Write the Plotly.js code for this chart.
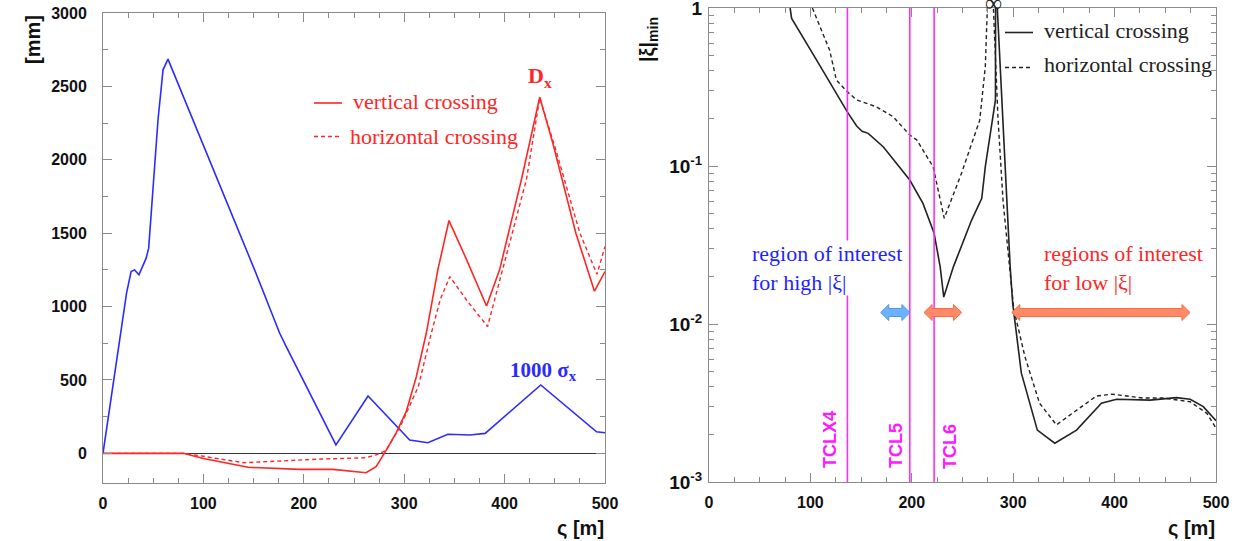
<!DOCTYPE html>
<html>
<head>
<meta charset="utf-8">
<script src="https://cdn.plot.ly/plotly-3.0.1.min.js"></script>
<style>
  html, body { margin: 0; padding: 0; background: #fff; }
  #chart { width: 1253px; height: 541px; }
</style>
</head>
<body>
<div id="chart"></div>
<script>
// ---- Left panel: dispersion D_x and 1000*sigma_x along s [m] ----
const sSigma = [0, 23.5, 28, 31.5, 35.8, 43, 45.5, 50.5, 54.8, 59.8, 64.7, 151, 176, 182.5, 209, 232, 264, 292, 305.5, 323.6, 343.5, 365.7, 380.6, 436, 491.6, 500];
const sigma1000 = [0, 1093, 1238, 1250, 1216, 1330, 1398, 1909, 2273, 2613, 2686, 1250, 818, 727, 363, 57, 391, 193, 91, 72, 130, 125, 136, 466, 147, 140];

const sDxVert = [0, 80, 100, 144.5, 196, 229, 262, 272, 282, 292, 302, 312, 322, 333.5, 344.6, 362, 382, 395, 416.7, 435, 448, 471, 489.5, 500];
const dxVert  = [0, 0, -35, -95, -109, -109, -132, -91, 20, 140, 284, 520, 818, 1250, 1586, 1322, 1004, 1250, 1864, 2427, 2114, 1500, 1105, 1238];

const sDxHor = [0, 80, 100, 140, 216, 262, 272, 282, 296, 314, 327, 336, 345.5, 362, 383, 398, 421.7, 435, 451, 475, 492, 500];
const dxHor  = [0, 0, -20, -64, -39, -30, -10, 20, 182, 454, 818, 1050, 1204, 1045, 864, 1250, 1864, 2420, 2068, 1500, 1220, 1409];

// ---- Right panel: |xi|_min along s [m] (log scale) ----
const sXiVert = [80, 81.5, 106, 136.4, 145.6, 151, 157, 172, 198, 211, 222, 228, 231.5, 241, 259, 269, 272.5, 282.5, 283.3, 284.1, 284.5, 297, 299.5, 308, 323.8, 341, 362.5, 387, 402, 435, 461, 474.5, 487.5, 500];
const xiVert  = [1, 0.86, 0.47, 0.22, 0.179, 0.166, 0.161, 0.132, 0.0815, 0.058, 0.0375, 0.023, 0.0148, 0.023, 0.0455, 0.0625, 0.099, 0.262, 1000, 1000, 0.95, 0.023, 0.0135, 0.0049, 0.00213, 0.00176, 0.00213, 0.00315, 0.00334, 0.0033, 0.00342, 0.00334, 0.003, 0.00244];

const sXiHor = [102, 119, 125.6, 136.4, 145.6, 165, 181.6, 198, 205, 221, 232, 249, 267, 272.5, 274.5, 276, 279.5, 280.5, 285, 290, 297, 300.5, 311.6, 326, 342.6, 362.5, 382, 397, 428, 448, 474.5, 491, 500];
const xiHor  = [1, 0.54, 0.35, 0.295, 0.262, 0.237, 0.205, 0.157, 0.146, 0.099, 0.0467, 0.09, 0.195, 0.425, 1, 1000, 1000, 1, 0.2, 0.06, 0.022, 0.0125, 0.0062, 0.00315, 0.0023, 0.00286, 0.0035, 0.0036, 0.0034, 0.0034, 0.00322, 0.00272, 0.00219];

// collimator positions [m] and their names
const collimatorS = [136.5, 198, 222];
const collimatorNames = ['TCLX4', 'TCL5', 'TCL6'];

// spans of interest [m] drawn as double arrows
const highXiSpan = [169.3, 198.2];
const lowXiSpans = [[212, 249.2], [298.5, 474.4]];

const yTickVals = [0.001, 0.01, 0.1, 1];
const yTickText = ['10<sup>-3</sup>', '10<sup>-2</sup>', '10<sup>-1</sup>', '1'];

const W = 1253, H = 541;
const px = x => x / W;
const py = y => 1 - y / H;

const RED = '#ff2626', BLUE = '#2b2bff', BLACK = '#222222', MAGENTA = '#ff2bff';
const DASH = '4px,3px';
const serif = 'Liberation Serif, Times New Roman, serif';
const sans = 'Liberation Sans, Arial, Helvetica, sans-serif';

const traces = [
  { x: sSigma, y: sigma1000, xaxis: 'x', yaxis: 'y', mode: 'lines', line: { color: BLUE, width: 1.6 } },
  { x: sDxVert, y: dxVert, xaxis: 'x', yaxis: 'y', mode: 'lines', line: { color: RED, width: 1.6 } },
  { x: sDxHor, y: dxHor, xaxis: 'x', yaxis: 'y', mode: 'lines', line: { color: RED, width: 1.4, dash: DASH } },
  { x: sXiVert, y: xiVert, xaxis: 'x2', yaxis: 'y2', mode: 'lines', line: { color: BLACK, width: 1.6 } },
  { x: sXiHor, y: xiHor, xaxis: 'x2', yaxis: 'y2', mode: 'lines', line: { color: BLACK, width: 1.4, dash: DASH } }
];

const tickFont = { family: sans, size: 16, weight: 'bold', color: '#111' };
const frame = {
  showline: true, linecolor: '#8a8a8a', linewidth: 1, mirror: 'ticks',
  ticks: 'inside', ticklen: 9, tickwidth: 1, tickcolor: '#8a8a8a',
  showgrid: false, zeroline: false, tickfont: tickFont, ticklabeloverflow: 'allow'
};

const logMinor = [];
for (let e = -3; e < 0; e++) for (let d = 2; d <= 9; d++) logMinor.push(d * Math.pow(10, e));

// double-headed block arrow, x in data units, y in paper units
function arrowPath(x0, x1, yc) {
  const L = 8, h = 4 / H, Hh = 8 / H;
  return `M ${x0},${yc} L ${x0 + L},${yc + Hh} L ${x0 + L},${yc + h} L ${x1 - L},${yc + h} L ${x1 - L},${yc + Hh} ` +
         `L ${x1},${yc} L ${x1 - L},${yc - Hh} L ${x1 - L},${yc - h} L ${x0 + L},${yc - h} L ${x0 + L},${yc - Hh} Z`;
}

const shapes = [];
collimatorS.forEach(s => shapes.push({
  type: 'line', xref: 'x2', yref: 'y2 domain', x0: s, x1: s, y0: 0, y1: 1,
  line: { color: MAGENTA, width: 1.6 }, layer: 'above'
}));
const arrowY = py(312.5);
shapes.push({ type: 'path', xref: 'x2', yref: 'paper', path: arrowPath(highXiSpan[0], highXiSpan[1], arrowY),
  fillcolor: '#6cb2ff', line: { color: '#4f97e6', width: 1 } });
lowXiSpans.forEach(sp => shapes.push({ type: 'path', xref: 'x2', yref: 'paper', path: arrowPath(sp[0], sp[1], arrowY),
  fillcolor: '#ff8a66', line: { color: '#ff6a48', width: 1 } }));

// legend samples
function legendLine(x0, x1, y, color, dash) {
  return { type: 'line', xref: 'paper', yref: 'paper', x0: px(x0), x1: px(x1), y0: py(y), y1: py(y),
    line: { color: color, width: 1.6, dash: dash || 'solid' } };
}
shapes.push(legendLine(314, 342, 103, RED));
shapes.push(legendLine(314, 342, 136.5, RED, DASH));
shapes.push(legendLine(1005, 1033, 32.5, BLACK));
shapes.push(legendLine(1005, 1033, 67.5, BLACK, DASH));

function note(text, x, y, opts) {
  return Object.assign({ xref: 'paper', yref: 'paper', x: px(x), y: py(y), text: text, showarrow: false,
    xanchor: 'left', yanchor: 'middle' }, opts || {});
}
const legFont = (c) => ({ family: serif, size: 22, color: c });

const annotations = [
  note('vertical crossing', 351, 102, { font: legFont(RED) }),
  note('horizontal crossing', 348, 136, { font: legFont(RED) }),
  note('vertical crossing', 1042, 30, { font: legFont(BLACK) }),
  note('horizontal crossing', 1042, 65, { font: legFont(BLACK) }),
  note('<b>D<sub>x</sub></b>', 526, 77, { font: { family: serif, size: 22, color: RED } }),
  note('<b>1000 σ<sub>x</sub></b>', 508, 371, { font: { family: serif, size: 21, color: BLUE } }),
  note('region of interest<br>for high |ξ|', 751, 268, { font: { family: serif, size: 22, color: '#1f1fff' },
    align: 'left', bgcolor: '#ffffff', borderpad: 0 }),
  note('regions of interest<br>for low |ξ|', 1042, 268, { font: { family: serif, size: 22, color: RED }, align: 'left' }),
  note('∞', 993, 3, { xanchor: 'center', font: { family: serif, size: 24, color: BLACK } }),
  note('<b>[mm]</b>', 33, 40, { xanchor: 'center', textangle: -90, font: { family: sans, size: 20, color: '#111' } }),
  note('<b>|ξ|<sub>min</sub></b>', 648, 40, { xanchor: 'center', textangle: -90, font: { family: sans, size: 20, color: '#111' } }),
  note('<b>ς [m]</b>', 606, 528, { xanchor: 'right', font: { family: sans, size: 20, color: '#111' } }),
  note('<b>ς [m]</b>', 1217, 528, { xanchor: 'right', font: { family: sans, size: 20, color: '#111' } })
];
const tclPos = [[830, 440], [896, 446], [950, 447]];
collimatorNames.forEach((name, i) => annotations.push(
  note('<b>' + name + '</b>', tclPos[i][0], tclPos[i][1],
    { xanchor: 'center', textangle: -90, font: { family: sans, size: 18, color: '#ff19ff' } })
));

const layout = {
  width: W, height: H,
  margin: { l: 0, r: 0, t: 0, b: 0 },
  paper_bgcolor: '#fff', plot_bgcolor: '#fff',
  showlegend: false,
  xaxis: Object.assign({}, frame, {
    domain: [px(103), px(605)], anchor: 'y', range: [0, 500], tick0: 0, dtick: 100,
    ticklabelstandoff: 6,
    minor: { dtick: 25, ticks: 'inside', ticklen: 5, tickcolor: '#8a8a8a', showgrid: false }
  }),
  yaxis: Object.assign({}, frame, {
    domain: [py(482.7), py(13)], anchor: 'x', range: [-200, 3000], tick0: 0, dtick: 500,
    ticklabelstandoff: 12,
    zeroline: true, zerolinecolor: '#333333', zerolinewidth: 1.6,
    minor: { tick0: 0, dtick: 250, ticks: 'inside', ticklen: 5, tickcolor: '#8a8a8a', showgrid: false }
  }),
  xaxis2: Object.assign({}, frame, {
    domain: [px(709), px(1216)], anchor: 'y2', range: [0, 500], tick0: 0, dtick: 100,
    ticklabelstandoff: 6,
    minor: { dtick: 25, ticks: 'inside', ticklen: 5, tickcolor: '#8a8a8a', showgrid: false }
  }),
  yaxis2: Object.assign({}, frame, {
    domain: [py(482), py(8)], anchor: 'x2', type: 'log', range: [-3, 0.0001],
    tickmode: 'array', tickvals: yTickVals, ticktext: yTickText,
    tickfont: { family: sans, size: 19, weight: 'bold', color: '#111' },
    ticklabelstandoff: 2,
    minor: { tickmode: 'array', tickvals: logMinor, ticks: 'inside', ticklen: 5, tickcolor: '#8a8a8a', showgrid: false }
  }),
  shapes: shapes,
  annotations: annotations
};

Plotly.newPlot('chart', traces, layout, { staticPlot: true, displayModeBar: false });
</script>
</body>
</html>
